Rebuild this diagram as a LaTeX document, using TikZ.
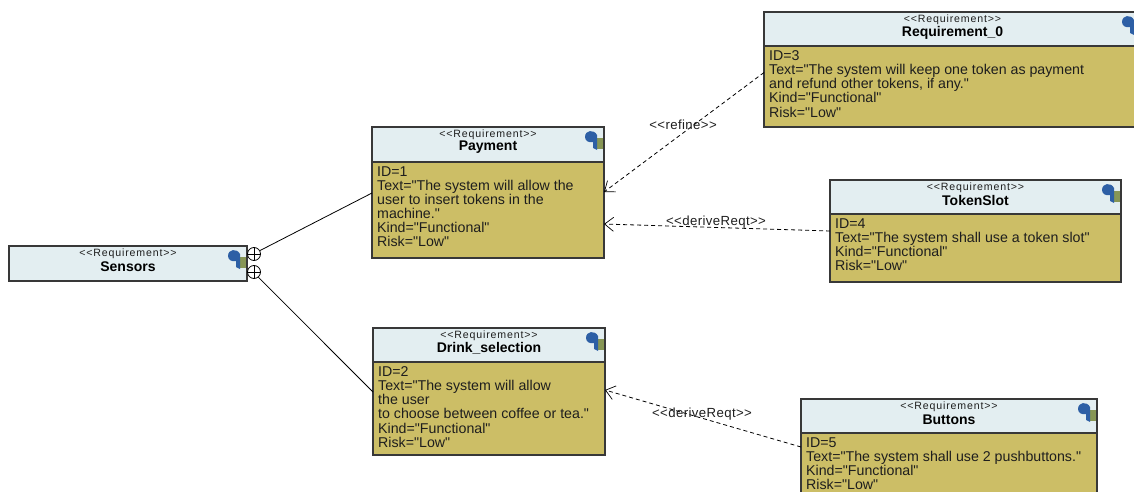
\documentclass[tikz,border=0pt]{standalone}
\usepackage{fontspec}
\setmainfont{Liberation Sans}[Ligatures=TeXOff]
\usetikzlibrary{arrows.meta}
\definecolor{headfill}{RGB}{227,238,241}
\definecolor{bodyfill}{RGB}{204,190,102}
\definecolor{edgegray}{RGB}{56,56,56}
\definecolor{inkgray}{RGB}{30,30,30}
\definecolor{iconblue}{RGB}{45,95,165}
\definecolor{iconolive}{RGB}{135,150,85}
\newcommand{\boxhead}[6]{% name, x0, y0, x1, y1, title
  \node[headbox,minimum width={(#4-#2)*1pt},minimum height={(#5-#3)*1pt}] (#1) at ({#2},{#3}) {};
  \node[stereo] (#1s) at ({(#2+#4)/2},{#3+7.5}) {{<}{<}Requirement{>}{>}};
  \node[titletext] (#1t) at ({(#2+#4)/2},{#3+20.5}) {#6};
  \fill[iconolive] ({#4-9},{#3+11}) rectangle ({#4-1},{#3+22});
  \fill[iconblue] ({#4-19},{#3+10}) .. controls ({#4-19},{#3+3}) and ({#4-10},{#3+2}) .. ({#4-7},{#3+8})
     -- ({#4-7},{#3+23}) -- ({#4-11},{#3+21}) -- ({#4-11},{#3+15}) .. controls ({#4-15},{#3+16}) and ({#4-19},{#3+14}) .. ({#4-19},{#3+10}) -- cycle;
}
\newcommand{\boxbody}[6]{% name, x0, y0, x1, y1, text
  \node[bodybox,minimum width={(#4-#2)*1pt},minimum height={(#5-#3)*1pt}] (#1) at ({#2},{#3}) {};
  \node[bodytext] (#1x) at ({#2+5},{#3+4.5}) {#6};
}
\tikzset{
  x=1pt,y=-1pt,
  headbox/.style={draw=edgegray,line width=1.5pt,fill=headfill,anchor=north west,inner sep=0pt,outer sep=0pt},
  bodybox/.style={draw=edgegray,line width=1.5pt,fill=bodyfill,anchor=north west,inner sep=0pt,outer sep=0pt},
  stereo/.style={inner sep=0pt,text=inkgray,font=\fontsize{10.6}{10}\selectfont\addfontfeature{LetterSpace=8}},
  titletext/.style={inner sep=0pt,text=black,font=\fontsize{14}{14}\selectfont\bfseries},
  bodytext/.style={inner sep=0pt,anchor=north west,align=left,text=inkgray,font=\fontsize{14.2}{14.1}\selectfont},
  edgelabel/.style={inner sep=0pt,text=inkgray,font=\fontsize{13.2}{12}\selectfont\addfontfeature{LetterSpace=3}},
  dep/.style={draw=black,line width=0.8pt,dash pattern=on 4pt off 3pt,-{Straight Barb[length=9pt,width=14pt,line width=0.7pt]}},
  contain/.style={circle,draw=black,line width=0.8pt,fill=white,minimum size=13pt,inner sep=0pt},
  link/.style={draw=black,line width=0.8pt}
}
\begin{document}
\begin{tikzpicture}
\clip (0,0) rectangle (1134,492);
\fill[white] (0,0) rectangle (1134,492);
% Sensors
\boxhead{sensors}{9}{246}{247}{281}{Sensors}
% Payment
\boxhead{payhead}{372}{127}{604}{162}{Payment}
\boxbody{paybody}{372}{162}{604}{258}{ID=1\\Text="The system will allow the\\user to insert tokens in the\\machine."\\Kind="Functional"\\Risk="Low"}
% Drink_selection
\boxhead{drinkhead}{373}{328}{605}{362}{Drink\_selection}
\boxbody{drinkbody}{373}{362}{605}{455}{ID=2\\Text="The system will allow\\the user\\to choose between coffee or tea."\\Kind="Functional"\\Risk="Low"}
% Requirement_0
\boxhead{zerohead}{764}{12}{1141}{46}{Requirement\_0}
\boxbody{zerobody}{764}{46}{1141}{127}{ID=3\\Text="The system will keep one token as payment\\and refund other tokens, if any."\\Kind="Functional"\\Risk="Low"}
% TokenSlot
\boxhead{slothead}{830}{180}{1121}{214}{TokenSlot}
\boxbody{slotbody}{830}{214}{1121}{282}{ID=4\\Text="The system shall use a token slot"\\Kind="Functional"\\Risk="Low"}
% Buttons
\boxhead{btnhead}{801}{399}{1097}{433}{Buttons}
\boxbody{btnbody}{801}{433}{1097}{500}{ID=5\\Text="The system shall use 2 pushbuttons."\\Kind="Functional"\\Risk="Low"}
% containment
\node[contain] (ca) at (254,254) {};
\node[contain] (cb) at (254,272) {};
\draw[link] (ca.north) -- (ca.south);
\draw[link] (ca.west) -- (ca.east);
\draw[link] (cb.north) -- (cb.south);
\draw[link] (cb.west) -- (cb.east);
\draw[link] (ca.30) -- ([yshift=17pt]paybody.west);
\draw[link] (cb.-50) -- ([yshift=16.5pt]drinkbody.west);
% dependencies
\draw[dep] ([yshift=14pt]zerobody.west) -- ([yshift=18pt]paybody.east);
\draw[dep] ([yshift=17pt]slotbody.west) -- ([yshift=-14pt]paybody.east);
\draw[dep] ([yshift=19.5pt]btnbody.west) -- ([yshift=18.5pt]drinkbody.east);
\node[edgelabel] (refl) at (683,125) {{<}{<}refine{>}{>}};
\node[edgelabel] (derl) at (716,222) {{<}{<}deriveReqt{>}{>}};
\node[edgelabel] (drl) at (702,414) {{<}{<}deriveReqt{>}{>}};
\end{tikzpicture}
\end{document}
